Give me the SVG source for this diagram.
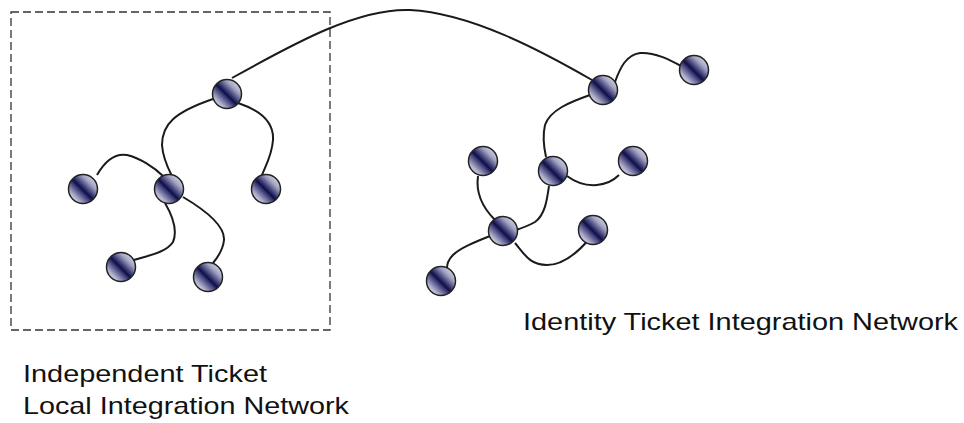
<svg xmlns="http://www.w3.org/2000/svg" width="964" height="423" viewBox="0 0 964 423">
<style>
.bg{fill:#ffffff}
.frame{fill:none;stroke:#333;stroke-width:1.3;stroke-dasharray:8 4}
.link{fill:none;stroke:#1a1a1a;stroke-width:2}
.node{fill:url(#ball);stroke:#222;stroke-width:1.5}
.lbl{font-family:"Liberation Sans",Arial,sans-serif;font-size:24px;fill:#111}
</style>
<defs>
<linearGradient id="ball" x1="1" y1="0" x2="0" y2="1">
<stop offset="0" stop-color="#f6f6fb"/>
<stop offset="0.28" stop-color="#a4a4c4"/>
<stop offset="0.47" stop-color="#2a2a66"/>
<stop offset="0.52" stop-color="#0e0e48"/>
<stop offset="0.58" stop-color="#3a3a74"/>
<stop offset="0.78" stop-color="#b4b4d0"/>
<stop offset="1" stop-color="#f6f6fb"/>
</linearGradient>
</defs>
<rect class="bg" x="0" y="0" width="964" height="423"/>
<rect class="frame" x="11" y="12" width="319" height="318"/>
<g id="connectors">
<path class="link" d="M232 78 C300 40 360 8 410 10 C470 13 540 50 592 80"/>
<path class="link" d="M213 99 C175 112 162 124 162 145 C163 160 169 170 173 178"/>
<path class="link" d="M238 103 C262 111 274 124 273 140 C272 155 266 165 262 175"/>
<path class="link" d="M97 175 C105 161 115 153 127 155 C140 158 155 168 163 176"/>
<path class="link" d="M165 203 C172 215 178 230 173 242 C166 253 146 256 134 260"/>
<path class="link" d="M183 197 C205 210 225 225 224 240 C223 250 218 257 213 263"/>
<path class="link" d="M615 82 C620 68 626 55 640 53 C655 52 670 60 681 66"/>
<path class="link" d="M590 95 C570 102 550 110 545 125 C542 138 544 148 546 157"/>
<path class="link" d="M567 176 C575 182 585 186 597 185 C607 184 614 180 619 175"/>
<path class="link" d="M549 186 C547 200 545 215 535 222 C528 226 522 228 516 230"/>
<path class="link" d="M478 176 C476 190 480 205 495 220"/>
<path class="link" d="M490 236 C475 242 460 248 453 255 C448 260 447 265 447 268"/>
<path class="link" d="M515 243 C525 255 530 265 547 265 C565 265 580 250 590 238"/>
</g>
<g id="n-l-top"><circle class="node" cx="227" cy="94" r="14.5"/></g>
<g id="n-l-left"><circle class="node" cx="83" cy="189" r="14.5"/></g>
<g id="n-l-mid"><circle class="node" cx="169" cy="189" r="14.5"/></g>
<g id="n-l-right"><circle class="node" cx="266" cy="189" r="14.5"/></g>
<g id="n-l-bl"><circle class="node" cx="121" cy="267" r="14.5"/></g>
<g id="n-l-br"><circle class="node" cx="208" cy="277" r="14.5"/></g>
<g id="n-r-top"><circle class="node" cx="603" cy="90" r="14.5"/></g>
<g id="n-r-far"><circle class="node" cx="694" cy="70" r="14.5"/></g>
<g id="n-r-mid"><circle class="node" cx="553" cy="171" r="14.5"/></g>
<g id="n-r-left"><circle class="node" cx="483" cy="161" r="14.5"/></g>
<g id="n-r-right"><circle class="node" cx="633" cy="161" r="14.5"/></g>
<g id="n-r-center"><circle class="node" cx="503" cy="231" r="14.5"/></g>
<g id="n-r-lr"><circle class="node" cx="593" cy="230" r="14.5"/></g>
<g id="n-r-bl"><circle class="node" cx="441" cy="281" r="14.5"/></g>
<g id="labels">
<text class="lbl" x="523" y="330" textLength="435" lengthAdjust="spacingAndGlyphs">Identity Ticket Integration Network</text>
<text class="lbl" x="23" y="382" textLength="244" lengthAdjust="spacingAndGlyphs">Independent Ticket</text>
<text class="lbl" x="23" y="414" textLength="326" lengthAdjust="spacingAndGlyphs">Local Integration Network</text>
</g>
</svg>
